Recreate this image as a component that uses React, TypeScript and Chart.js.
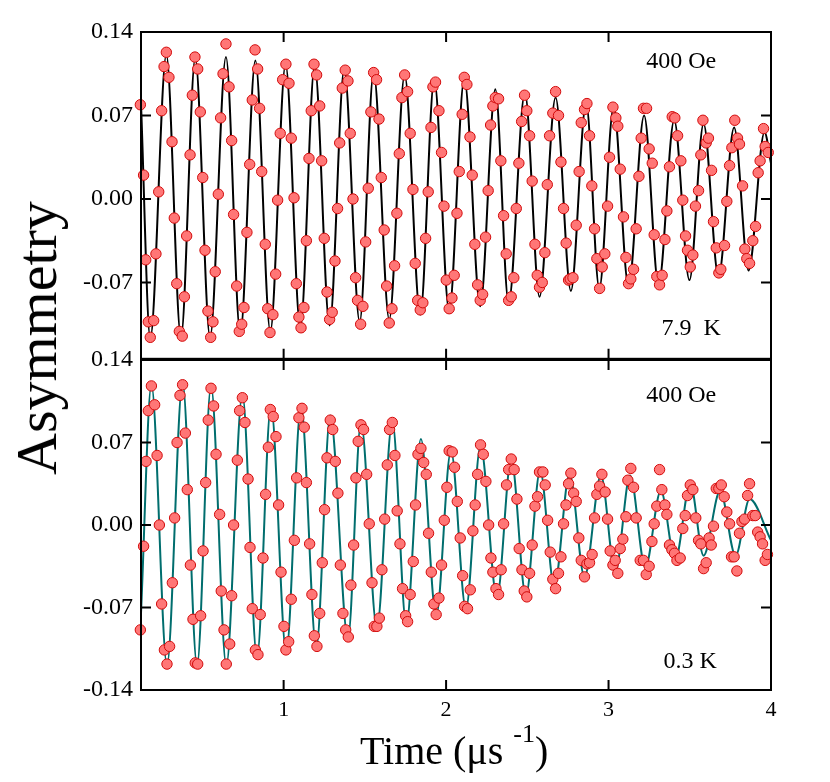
import React, { useEffect, useRef } from 'react';
import { Chart, registerables } from 'chart.js';

Chart.register(...registerables);

const FONT = '"Liberation Serif", "Times New Roman", Times, serif';

// x-axis tick values (time, µs) and y tick labels (asymmetry)
const xTickValues = [1, 2, 3, 4];
const topYTickValues = [0.14, 0.07, 0, -0.07];
const bottomYTickValues = [0.14, 0.07, 0, -0.07, -0.14];

// ---- Upper panel: 7.9 K, 400 Oe — measured points [time, asymmetry]
const data79K: [number, number][] = [
  [0.118, 0.079], [0.138, 0.020], [0.151, -0.051], [0.167, -0.103], [0.179, -0.116], [0.200, -0.102],
  [0.214, -0.046], [0.231, 0.006], [0.249, 0.074], [0.264, 0.111], [0.278, 0.123], [0.294, 0.102],
  [0.313, 0.048], [0.327, -0.016], [0.342, -0.071], [0.358, -0.111], [0.376, -0.115], [0.389, -0.082],
  [0.403, -0.031], [0.424, 0.037], [0.438, 0.087], [0.454, 0.119], [0.471, 0.109], [0.487, 0.073],
  [0.502, 0.018], [0.516, -0.043], [0.534, -0.094], [0.551, -0.116], [0.565, -0.103], [0.579, -0.061],
  [0.598, 0.004], [0.612, 0.068], [0.627, 0.105], [0.645, 0.130], [0.664, 0.094], [0.680, 0.049],
  [0.692, -0.013], [0.711, -0.073], [0.727, -0.111], [0.742, -0.105], [0.756, -0.091], [0.774, -0.028],
  [0.791, 0.029], [0.807, 0.083], [0.824, 0.125], [0.840, 0.109], [0.852, 0.076], [0.865, 0.023],
  [0.887, -0.038], [0.902, -0.092], [0.916, -0.112], [0.934, -0.097], [0.951, -0.063], [0.963, -0.001],
  [0.979, 0.055], [0.994, 0.100], [1.014, 0.113], [1.033, 0.097], [1.047, 0.051], [1.064, 0.001],
  [1.078, -0.071], [1.094, -0.099], [1.107, -0.108], [1.125, -0.091], [1.140, -0.035], [1.156, 0.034],
  [1.170, 0.074], [1.187, 0.113], [1.203, 0.104], [1.222, 0.078], [1.234, 0.032], [1.250, -0.033],
  [1.267, -0.078], [1.283, -0.101], [1.299, -0.095], [1.316, -0.052], [1.332, -0.008], [1.345, 0.047],
  [1.361, 0.093], [1.379, 0.108], [1.396, 0.099], [1.410, 0.055], [1.427, 0.000], [1.443, -0.066],
  [1.455, -0.085], [1.474, -0.105], [1.488, -0.090], [1.505, -0.036], [1.521, 0.009], [1.537, 0.073],
  [1.554, 0.106], [1.572, 0.100], [1.587, 0.067], [1.601, 0.018], [1.619, -0.026], [1.634, -0.073],
  [1.650, -0.104], [1.667, -0.092], [1.683, -0.056], [1.697, -0.012], [1.712, 0.038], [1.728, 0.085],
  [1.745, 0.104], [1.763, 0.090], [1.779, 0.055], [1.796, 0.008], [1.810, -0.054], [1.825, -0.085],
  [1.841, -0.093], [1.857, -0.087], [1.874, -0.033], [1.890, 0.006], [1.907, 0.060], [1.919, 0.094],
  [1.935, 0.098], [1.956, 0.074], [1.972, 0.039], [1.987, -0.006], [2.001, -0.068], [2.019, -0.092],
  [2.036, -0.083], [2.050, -0.064], [2.067, -0.012], [2.081, 0.023], [2.099, 0.071], [2.112, 0.102],
  [2.128, 0.096], [2.147, 0.052], [2.161, 0.020], [2.177, -0.038], [2.194, -0.072], [2.210, -0.085],
  [2.225, -0.080], [2.243, -0.032], [2.259, 0.007], [2.274, 0.062], [2.288, 0.078], [2.303, 0.085],
  [2.323, 0.084], [2.337, 0.032], [2.354, -0.014], [2.370, -0.046], [2.385, -0.085], [2.401, -0.082],
  [2.417, -0.066], [2.432, -0.008], [2.448, 0.030], [2.465, 0.065], [2.483, 0.087], [2.497, 0.074],
  [2.514, 0.053], [2.530, 0.015], [2.547, -0.038], [2.561, -0.064], [2.575, -0.074], [2.592, -0.070],
  [2.608, -0.045], [2.623, 0.012], [2.637, 0.053], [2.657, 0.072], [2.674, 0.090], [2.692, 0.070],
  [2.707, 0.031], [2.723, -0.008], [2.739, -0.037], [2.754, -0.068], [2.764, -0.067], [2.781, -0.066],
  [2.801, -0.022], [2.819, 0.023], [2.832, 0.064], [2.852, 0.075], [2.867, 0.080], [2.883, 0.053],
  [2.897, 0.011], [2.914, -0.025], [2.928, -0.050], [2.945, -0.075], [2.961, -0.057], [2.977, -0.046],
  [2.994, -0.006], [3.006, 0.035], [3.027, 0.077], [3.045, 0.068], [3.057, 0.061], [3.072, 0.025],
  [3.092, -0.015], [3.107, -0.049], [3.123, -0.071], [3.137, -0.067], [3.154, -0.059], [3.170, -0.025],
  [3.187, 0.019], [3.201, 0.051], [3.215, 0.076], [3.234, 0.076], [3.250, 0.042], [3.269, 0.030],
  [3.281, -0.030], [3.297, -0.065], [3.314, -0.072], [3.330, -0.064], [3.347, -0.034], [3.359, -0.010],
  [3.375, 0.027], [3.392, 0.069], [3.408, 0.068], [3.425, 0.053], [3.445, 0.032], [3.457, -0.001],
  [3.474, -0.031], [3.486, -0.043], [3.503, -0.057], [3.519, -0.047], [3.535, -0.006], [3.554, 0.007],
  [3.568, 0.037], [3.581, 0.066], [3.601, 0.047], [3.615, 0.051], [3.634, 0.024], [3.646, -0.019],
  [3.663, -0.041], [3.679, -0.062], [3.691, -0.059], [3.714, -0.039], [3.728, -0.002], [3.745, 0.028],
  [3.759, 0.043], [3.777, 0.066], [3.794, 0.051], [3.806, 0.046], [3.825, 0.011], [3.839, -0.042],
  [3.851, -0.050], [3.868, -0.054], [3.888, -0.035], [3.905, -0.023], [3.921, 0.022], [3.933, 0.032],
  [3.954, 0.059], [3.964, 0.044], [3.983, 0.039],
];

// Upper panel fit curve vertices (extrema)
const fit79K: [number, number][] = [
  [0.122, 0.080], [0.179, -0.117], [0.278, 0.121], [0.368, -0.116], [0.456, 0.118], [0.547, -0.116],
  [0.645, 0.119], [0.733, -0.113], [0.826, 0.116], [0.918, -0.111], [1.012, 0.113], [1.103, -0.108],
  [1.191, 0.112], [1.283, -0.106], [1.373, 0.109], [1.468, -0.103], [1.554, 0.106], [1.650, -0.101],
  [1.745, 0.104], [1.841, -0.097], [1.927, 0.100], [2.019, -0.094], [2.112, 0.101], [2.210, -0.090],
  [2.303, 0.092], [2.385, -0.087], [2.485, 0.089], [2.575, -0.082], [2.674, 0.085], [2.768, -0.077],
  [2.862, 0.080], [2.943, -0.075], [3.031, 0.077], [3.123, -0.073], [3.219, 0.070], [3.308, -0.072],
  [3.404, 0.066], [3.498, -0.068], [3.585, 0.063], [3.677, -0.065], [3.773, 0.060], [3.862, -0.060],
  [3.960, 0.056], [4.000, 0.030],
];

// ---- Lower panel: 0.3 K, 400 Oe — measured points [time, asymmetry]
const data03K: [number, number][] = [
  [0.118, -0.089], [0.138, -0.018], [0.153, 0.054], [0.167, 0.097], [0.186, 0.118], [0.206, 0.102],
  [0.221, 0.059], [0.235, 0.000], [0.249, -0.067], [0.266, -0.106], [0.282, -0.118], [0.298, -0.103],
  [0.315, -0.049], [0.329, 0.006], [0.344, 0.070], [0.362, 0.110], [0.378, 0.119], [0.395, 0.078],
  [0.407, 0.030], [0.426, -0.034], [0.442, -0.080], [0.456, -0.117], [0.471, -0.118], [0.489, -0.077],
  [0.504, -0.022], [0.520, 0.036], [0.536, 0.089], [0.553, 0.116], [0.569, 0.101], [0.584, 0.060],
  [0.606, 0.009], [0.616, -0.056], [0.633, -0.089], [0.647, -0.118], [0.668, -0.101], [0.680, -0.060],
  [0.692, 0.000], [0.715, 0.055], [0.729, 0.097], [0.746, 0.108], [0.762, 0.087], [0.781, 0.039],
  [0.793, -0.019], [0.807, -0.071], [0.826, -0.106], [0.842, -0.110], [0.856, -0.076], [0.873, -0.028],
  [0.889, 0.026], [0.906, 0.066], [0.918, 0.098], [0.936, 0.092], [0.953, 0.075], [0.969, 0.017],
  [0.984, -0.040], [1.002, -0.086], [1.014, -0.106], [1.031, -0.099], [1.047, -0.063], [1.066, -0.013],
  [1.080, 0.040], [1.094, 0.091], [1.113, 0.099], [1.127, 0.083], [1.140, 0.036], [1.160, -0.016],
  [1.174, -0.059], [1.189, -0.094], [1.205, -0.103], [1.222, -0.075], [1.238, -0.032], [1.252, 0.013],
  [1.267, 0.057], [1.287, 0.089], [1.302, 0.081], [1.318, 0.054], [1.334, 0.027], [1.349, -0.034],
  [1.365, -0.075], [1.382, -0.089], [1.398, -0.095], [1.414, -0.051], [1.431, -0.017], [1.445, 0.040],
  [1.459, 0.071], [1.476, 0.085], [1.492, 0.081], [1.511, 0.043], [1.527, 0.001], [1.544, -0.049],
  [1.558, -0.086], [1.574, -0.086], [1.589, -0.079], [1.605, -0.038], [1.622, 0.005], [1.638, 0.051],
  [1.652, 0.081], [1.669, 0.087], [1.685, 0.059], [1.699, 0.012], [1.716, -0.016], [1.732, -0.054],
  [1.751, -0.077], [1.763, -0.082], [1.779, -0.059], [1.798, -0.031], [1.812, 0.017], [1.827, 0.060],
  [1.845, 0.065], [1.862, 0.053], [1.878, 0.043], [1.892, -0.007], [1.909, -0.040], [1.925, -0.067],
  [1.939, -0.076], [1.956, -0.062], [1.972, -0.034], [1.989, 0.004], [2.005, 0.032], [2.019, 0.063],
  [2.038, 0.062], [2.052, 0.049], [2.069, 0.020], [2.087, -0.011], [2.102, -0.043], [2.114, -0.069],
  [2.132, -0.071], [2.149, -0.055], [2.165, -0.005], [2.179, 0.017], [2.194, 0.043], [2.212, 0.068],
  [2.229, 0.060], [2.245, 0.037], [2.262, 0.000], [2.276, -0.028], [2.288, -0.040], [2.307, -0.054],
  [2.323, -0.059], [2.339, -0.038], [2.354, 0.001], [2.372, 0.034], [2.385, 0.047], [2.401, 0.056],
  [2.419, 0.047], [2.436, 0.022], [2.450, -0.020], [2.467, -0.038], [2.481, -0.056], [2.497, -0.061],
  [2.514, -0.041], [2.530, -0.017], [2.547, 0.016], [2.563, 0.024], [2.575, 0.045], [2.596, 0.045],
  [2.610, 0.034], [2.625, 0.004], [2.641, -0.023], [2.657, -0.046], [2.674, -0.054], [2.692, -0.041],
  [2.707, -0.027], [2.723, 0.001], [2.738, 0.017], [2.754, 0.035], [2.768, 0.044], [2.785, 0.027],
  [2.801, 0.020], [2.817, -0.011], [2.832, -0.030], [2.852, -0.044], [2.867, -0.033], [2.883, -0.032],
  [2.899, -0.025], [2.914, 0.006], [2.928, 0.026], [2.945, 0.033], [2.959, 0.043], [2.979, 0.028],
  [2.994, 0.005], [3.010, -0.022], [3.027, -0.034], [3.041, -0.030], [3.057, -0.041], [3.072, -0.020],
  [3.088, -0.012], [3.107, 0.007], [3.119, 0.038], [3.137, 0.048], [3.154, 0.032], [3.170, 0.006],
  [3.195, -0.030], [3.215, -0.030], [3.232, -0.042], [3.250, -0.035], [3.267, -0.014], [3.281, 0.001],
  [3.297, 0.016], [3.314, 0.047], [3.328, 0.030], [3.347, 0.017], [3.359, 0.009], [3.375, -0.017],
  [3.390, -0.021], [3.406, -0.024], [3.421, -0.030], [3.441, -0.028], [3.457, -0.003], [3.472, 0.008],
  [3.486, 0.025], [3.503, 0.034], [3.519, 0.030], [3.537, 0.006], [3.554, -0.013], [3.568, -0.016],
  [3.585, -0.037], [3.601, -0.032], [3.619, -0.011], [3.632, -0.017], [3.646, -0.001], [3.663, 0.031],
  [3.679, 0.031], [3.694, 0.034], [3.712, 0.024], [3.728, 0.011], [3.745, 0.001], [3.757, -0.027],
  [3.773, -0.027], [3.790, -0.039], [3.806, -0.007], [3.821, 0.003], [3.837, 0.005], [3.856, 0.025],
  [3.868, 0.035], [3.888, 0.008], [3.903, 0.008], [3.918, -0.006], [3.933, -0.010], [3.948, -0.016],
  [3.964, -0.030], [3.978, -0.025],
];

// Lower panel fit curve vertices (extrema)
const fit03K: [number, number][] = [
  [0.122, -0.075], [0.186, 0.119], [0.282, -0.119], [0.378, 0.121], [0.467, -0.119], [0.553, 0.118],
  [0.647, -0.119], [0.746, 0.111], [0.836, -0.112], [0.922, 0.101], [1.016, -0.108], [1.107, 0.101],
  [1.201, -0.104], [1.287, 0.093], [1.396, -0.096], [1.476, 0.087], [1.574, -0.087], [1.669, 0.088],
  [1.755, -0.084], [1.845, 0.073], [1.939, -0.077], [2.030, 0.063], [2.122, -0.071], [2.212, 0.067],
  [2.313, -0.061], [2.401, 0.056], [2.491, -0.060], [2.579, 0.046], [2.666, -0.052], [2.760, 0.043],
  [2.852, -0.044], [2.953, 0.042], [3.041, -0.040], [3.133, 0.042], [3.226, -0.036], [3.322, 0.029],
  [3.410, -0.030], [3.503, 0.035], [3.585, -0.026], [3.687, 0.029], [3.782, -0.026], [3.868, 0.022],
  [4.000, -0.013],
];

const xMin = 0.122;
const xMax = 4;

const toXY = (arr: [number, number][]) => arr.map(([x, y]) => ({ x, y }));

const framePlugin = {
  id: 'frame',
  afterDatasetsDraw(chart: any, _args: any, opts: any) {
    const { ctx, chartArea: a, scales } = chart;
    ctx.save();
    ctx.strokeStyle = '#000';
    ctx.lineWidth = 2;
    ctx.strokeRect(a.left, a.top, a.right - a.left, a.bottom - a.top);
    const tl = 10;
    ctx.beginPath();
    for (const v of opts.xTicks || []) {
      const px = scales.x.getPixelForValue(v);
      ctx.moveTo(px, a.top);
      ctx.lineTo(px, a.top + tl);
      ctx.moveTo(px, a.bottom);
      ctx.lineTo(px, a.bottom - tl);
    }
    for (const v of opts.yTicks || []) {
      const py = scales.y.getPixelForValue(v);
      ctx.moveTo(a.left, py);
      ctx.lineTo(a.left + tl, py);
      ctx.moveTo(a.right, py);
      ctx.lineTo(a.right - tl, py);
    }
    ctx.stroke();
    ctx.fillStyle = '#000';
    ctx.font = `24px ${FONT}`;
    ctx.textAlign = 'center';
    ctx.textBaseline = 'middle';
    for (const n of opts.notes || []) {
      ctx.fillText(n.text, scales.x.getPixelForValue(n.x), scales.y.getPixelForValue(n.y));
    }
    ctx.restore();
  },
};

function makeConfig(opts: {
  points: [number, number][];
  fit: [number, number][];
  lineColor: string;
  yMin: number;
  yMax: number;
  yTicks: number[];
  showX: boolean;
  padding: any;
  notes: { text: string; x: number; y: number }[];
}) {
  return {
    type: 'line',
    data: {
      datasets: [
        {
          label: 'data',
          data: toXY(opts.points),
          showLine: false,
          pointRadius: 5.2,
          pointBackgroundColor: 'rgb(255,118,118)',
          pointBorderColor: 'rgb(210,10,10)',
          pointBorderWidth: 1,
          order: 0,
          clip: false,
        },
        {
          label: 'fit',
          data: toXY(opts.fit),
          borderColor: opts.lineColor,
          borderWidth: 2,
          pointRadius: 0,
          fill: false,
          cubicInterpolationMode: 'monotone',
          order: 1,
        },
      ],
    },
    options: {
      responsive: false,
      animation: false,
      devicePixelRatio: 1,
      events: [],
      layout: { padding: opts.padding },
      plugins: {
        legend: { display: false },
        tooltip: { enabled: false },
        frame: { xTicks: [1, 2, 3], yTicks: [0.07, 0, -0.07], notes: opts.notes },
      },
      scales: {
        x: {
          type: 'linear',
          min: xMin,
          max: xMax,
          display: opts.showX,
          afterBuildTicks: (s: any) => {
            s.ticks = xTickValues.map((v) => ({ value: v }));
          },
          afterFit: (s: any) => {
            s.height = opts.showX ? 92 : 0;
            s.paddingLeft = 0;
            s.paddingRight = 0;
          },
          grid: { display: false, drawTicks: false },
          border: { display: false },
          ticks: {
            padding: 7,
            autoSkip: false,
            maxRotation: 0,
            color: '#000',
            font: { family: FONT, size: 22 },
            callback: (v: any) => String(v),
          },
        },
        y: {
          type: 'linear',
          min: opts.yMin,
          max: opts.yMax,
          afterBuildTicks: (s: any) => {
            s.ticks = opts.yTicks.map((v) => ({ value: v }));
          },
          afterFit: (s: any) => {
            s.width = 133;
            s.paddingTop = 0;
            s.paddingBottom = 0;
          },
          grid: { display: false, drawTicks: false },
          border: { display: false },
          ticks: {
            padding: 8,
            autoSkip: false,
            color: '#000',
            font: { family: FONT, size: 24 },
            callback: (v: any) => Number(v).toFixed(2),
          },
        },
      },
    },
    plugins: [framePlugin],
  } as any;
}

export default function App() {
  const topRef = useRef<HTMLCanvasElement | null>(null);
  const botRef = useRef<HTMLCanvasElement | null>(null);

  useEffect(() => {
    const top = new Chart(
      topRef.current as HTMLCanvasElement,
      makeConfig({
        points: data79K,
        fit: fit79K,
        lineColor: '#000000',
        yMin: -0.134,
        yMax: 0.14,
        yTicks: topYTickValues,
        showX: false,
        padding: { left: 8, right: 59, top: 32, bottom: 4 },
        notes: [
          { text: '400 Oe', x: 3.447, y: 0.115 },
          { text: '7.9  K', x: 3.508, y: -0.109 },
        ],
      })
    );
    const bot = new Chart(
      botRef.current as HTMLCanvasElement,
      makeConfig({
        points: data03K,
        fit: fit03K,
        lineColor: 'rgb(0,110,110)',
        yMin: -0.14,
        yMax: 0.14,
        yTicks: bottomYTickValues,
        showX: true,
        padding: { left: 8, right: 59, top: 20, bottom: 0 },
        notes: [
          { text: '400 Oe', x: 3.447, y: 0.11 },
          { text: '0.3 K', x: 3.503, y: -0.116 },
        ],
      })
    );
    return () => {
      top.destroy();
      bot.destroy();
    };
  }, []);

  return (
    <div
      style={{
        position: 'absolute',
        left: 0,
        top: 0,
        width: 830,
        height: 782,
        background: '#fff',
        fontFamily: FONT,
        color: '#000',
        overflow: 'hidden',
      }}
    >
      <canvas ref={topRef} width={830} height={365} style={{ position: 'absolute', left: 0, top: 0 }} />
      <canvas ref={botRef} width={830} height={442} style={{ position: 'absolute', left: 0, top: 340 }} />
      <div
        style={{
          position: 'absolute',
          left: 37,
          top: 338,
          transform: 'translate(-50%, -50%) rotate(-90deg)',
          fontSize: 58,
          lineHeight: 1,
          whiteSpace: 'nowrap',
        }}
      >
        Asymmetry
      </div>
      <div
        style={{
          position: 'absolute',
          left: 360,
          top: 731,
          fontSize: 40,
          lineHeight: 1,
          whiteSpace: 'nowrap',
        }}
      >
        Time (μs
        <span style={{ fontSize: 26, position: 'relative', top: -22, marginLeft: 10 }}>-1</span>)
      </div>
    </div>
  );
}
